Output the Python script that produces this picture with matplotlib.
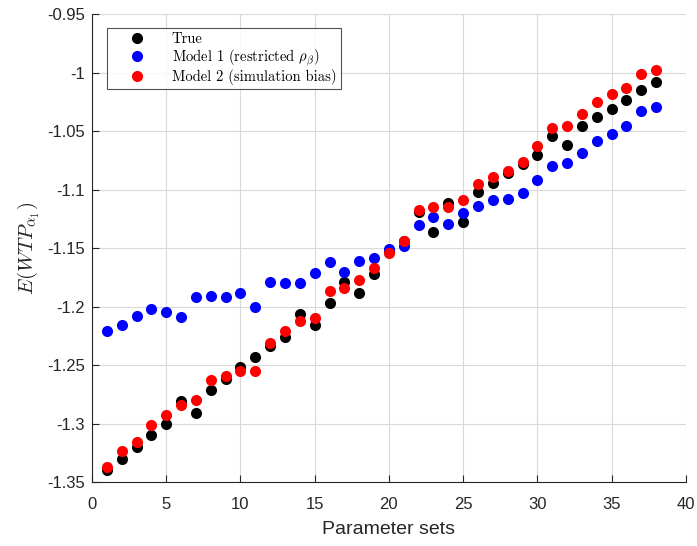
import matplotlib
matplotlib.use('Agg')
import matplotlib.pyplot as plt
import numpy as np
from matplotlib.font_manager import FontProperties

# Data
param_sets = np.arange(1, 39)

true_vals = [
    -1.340, -1.330, -1.320, -1.310, -1.300, -1.281, -1.291, -1.271, -1.262, -1.252,
    -1.243, -1.234, -1.226, -1.206, -1.216, -1.197, -1.179, -1.188, -1.172, -1.153,
    -1.144, -1.119, -1.136, -1.111, -1.128, -1.102, -1.094, -1.086, -1.078, -1.070,
    -1.054, -1.062, -1.046, -1.038, -1.031, -1.023, -1.015, -1.008,
]
model1_vals = [
    -1.221, -1.216, -1.208, -1.202, -1.205, -1.209, -1.192, -1.191, -1.192, -1.188,
    -1.200, -1.179, -1.180, -1.180, -1.171, -1.162, -1.170, -1.161, -1.158, -1.151,
    -1.148, -1.130, -1.123, -1.129, -1.120, -1.114, -1.109, -1.108, -1.103, -1.092,
    -1.080, -1.077, -1.069, -1.058, -1.052, -1.046, -1.033, -1.029,
]
model2_vals = [
    -1.337, -1.323, -1.316, -1.301, -1.293, -1.284, -1.280, -1.263, -1.259, -1.255,
    -1.255, -1.231, -1.221, -1.212, -1.210, -1.187, -1.184, -1.177, -1.167, -1.154,
    -1.144, -1.117, -1.115, -1.115, -1.109, -1.095, -1.089, -1.084, -1.076, -1.063,
    -1.047, -1.046, -1.035, -1.025, -1.018, -1.013, -1.001, -0.998,
]

series_labels = ['True', r'Model 1 (restricted $\rho_\beta$)', 'Model 2 (simulation bias)']
series_colors = ['black', 'blue', 'red']

plt.rcParams['font.family'] = ['Liberation Sans', 'DejaVu Sans']
plt.rcParams['mathtext.fontset'] = 'cm'

fig = plt.figure(figsize=(6.97, 5.46), dpi=100)
ax = fig.add_axes([0.132, 0.117, 0.852, 0.857])

for vals, lab, col in zip([true_vals, model1_vals, model2_vals], series_labels, series_colors):
    ax.plot(param_sets, vals, 'o', color=col, markersize=8, markeredgewidth=0, label=lab)

ax.set_xlim(0, 40)
ax.set_ylim(-1.35, -0.95)
ax.set_xticks(np.arange(0, 41, 5))
ax.set_yticks(np.arange(-1.35, -0.949, 0.05))
ax.set_yticklabels(['-1.35', '-1.3', '-1.25', '-1.2', '-1.15', '-1.1', '-1.05', '-1', '-0.95'])

ax.grid(True, color='#d9d9d9', linewidth=0.8)
ax.set_axisbelow(True)
for side in ['top', 'right']:
    ax.spines[side].set_visible(False)
for side in ['left', 'bottom']:
    ax.spines[side].set_color('#262626')
    ax.spines[side].set_linewidth(0.8)
ax.tick_params(colors='#262626', labelsize=12, direction='in', length=5, width=0.8, pad=5)
ax.tick_params(axis='x', pad=11)

ax.set_xlabel('Parameter sets', fontsize=14, color='#262626', labelpad=6)
ax.set_ylabel(r'$E(WTP_{\alpha_1})$', fontsize=15, color='#262626')

leg = ax.legend(loc='upper left', bbox_to_anchor=(0.025, 0.97), prop=FontProperties(family='cmr10', size=10.5),
                frameon=True, fancybox=False, edgecolor='#262626', borderpad=0.3, labelspacing=0.05,
                handletextpad=0.55, handlelength=3.6, borderaxespad=0)
leg.get_frame().set_linewidth(0.8)

plt.savefig('out.png', dpi=100)
